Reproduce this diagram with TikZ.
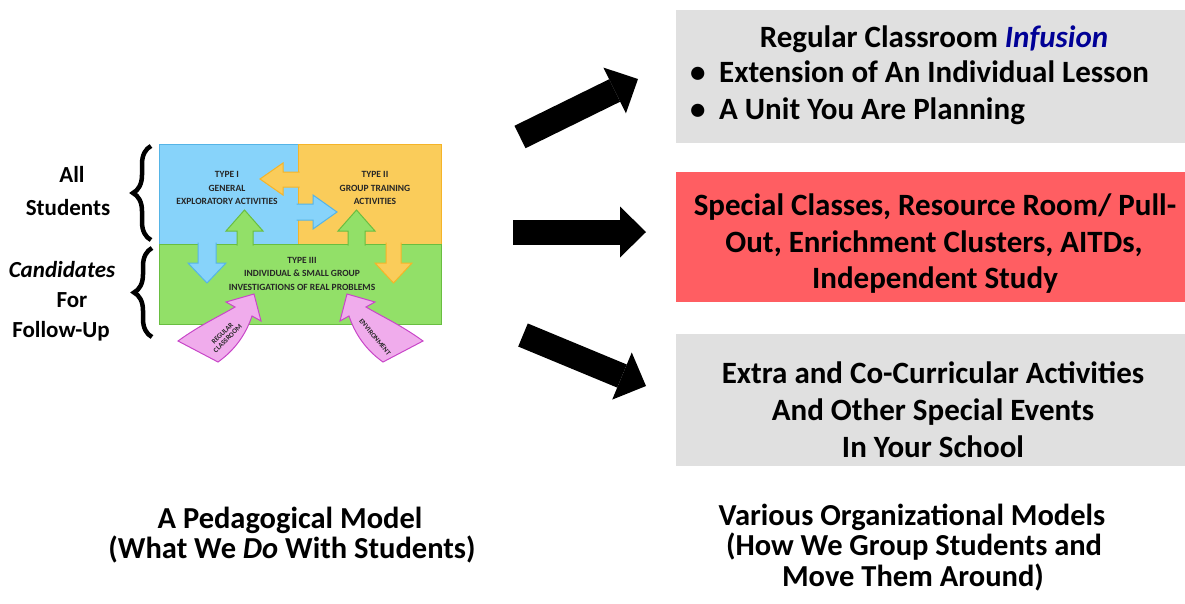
\documentclass[tikz,border=0pt]{standalone}
\usepackage{fontspec}
\setmainfont{Carlito}
\usepackage{xcolor}
\usepackage{tikz}
\usetikzlibrary{arrows.meta}
\usetikzlibrary{calc, positioning}
\usetikzlibrary{decorations.pathreplacing}
\definecolor{boxgray}{RGB}{224,224,224}
\definecolor{boxred}{RGB}{255,94,98}
\definecolor{infblue}{RGB}{0,0,150}
\definecolor{typeblue}{RGB}{135,211,250}
\definecolor{typebluedk}{RGB}{85,180,230}
\definecolor{typeorange}{RGB}{250,204,90}
\definecolor{typeorangedk}{RGB}{245,180,40}
\definecolor{typegreen}{RGB}{146,224,104}
\definecolor{typegreendk}{RGB}{105,190,65}
\definecolor{typepink}{RGB}{240,172,236}
\definecolor{typepinkdk}{RGB}{200,70,200}
\tikzstyle{orgbox} = [fill=boxgray,
	minimum width = 509pt,
	inner sep = 0pt]
\tikzstyle{boxtext} = [font=\fontsize{31}{37}\selectfont\bfseries, anchor=base, inner sep=0pt]
\tikzstyle{captext} = [font=\fontsize{30.5}{36}\selectfont\bfseries, anchor=base, inner sep=0pt]
\tikzstyle{sidetext} = [font=\fontsize{23}{28}\selectfont\bfseries, anchor=base, inner sep=0pt]
\tikzstyle{typetext} = [font=\fontsize{9.5}{13.5}\selectfont\bfseries, align=center, text=black!85]
\tikzstyle{bigarrow} = [line width=25pt, -{Triangle[length=26pt, width=51pt, line width=0pt]}]
\tikzstyle{bracket} = [decorate, decoration={brace, amplitude=18pt}, line width=4.5pt]
\newcommand{\typearrow}[3]{\filldraw[fill=#1, draw=#2, line width=1pt] #3;}
\newcommand{\pinkpath}{(178,341) .. controls (200,325) and (220,316) .. (235,307)
	-- (226,302) -- (254,294) -- (261,321) -- (252,316)
	.. controls (246,334) and (235,350) .. (218,362) -- cycle}

\begin{document}
\begin{tikzpicture}[x=1pt, y=-1pt]
	\useasboundingbox (0,0) rectangle (1185,603);
	
	% the three types
	\node (typeone) [draw=typebluedk, fill=typeblue, minimum width=139pt, minimum height=100pt, line width=1pt] at (228.5,194) {};
	\node (typetwo) [draw=typeorangedk, fill=typeorange, minimum width=143pt, minimum height=100pt, line width=1pt] at (369.5,194) {};
	\node (typethree) [draw=typegreendk, fill=typegreen, minimum width=282pt, minimum height=80pt, line width=1pt] at (300,284) {};
	
	\typearrow{typeorange}{typeorangedk}{(299.5,172) -- (283,172) -- (283,163) -- (260,179) -- (283,195) -- (283,187) -- (299.5,187)}
	\typearrow{typeblue}{typebluedk}{(296.5,204) -- (313,204) -- (313,195) -- (337,212) -- (313,229) -- (313,220) -- (296.5,220)}
	\typearrow{typegreen}{typegreendk}{(237,245.5) -- (237,231) -- (226,231) -- (244.5,210) -- (263,231) -- (253,231) -- (253,245.5)}
	\typearrow{typegreen}{typegreendk}{(348,245.5) -- (348,231) -- (338,231) -- (356.5,210) -- (375,231) -- (365,231) -- (365,245.5)}
	\typearrow{typeblue}{typebluedk}{(198,242.5) -- (198,263) -- (188,263) -- (207,283) -- (226,263) -- (216,263) -- (216,242.5)}
	\typearrow{typeorange}{typeorangedk}{(386,242.5) -- (386,263) -- (375,263) -- (393.5,283) -- (412,263) -- (401,263) -- (401,242.5)}
	
	\node [typetext] at (227,188) {TYPE I\\GENERAL\\EXPLORATORY ACTIVITIES};
	\node [typetext] at (375,188) {TYPE II\\GROUP TRAINING\\ACTIVITIES};
	\node [typetext] at (302,273.5) {TYPE III\\INDIVIDUAL \& SMALL GROUP\\INVESTIGATIONS OF REAL PROBLEMS};
	
	\filldraw[fill=typepink, draw=typepinkdk, line width=1pt] \pinkpath;
	\begin{scope}[xshift=601pt, xscale=-1]
		\filldraw[fill=typepink, draw=typepinkdk, line width=1pt] \pinkpath;
	\end{scope}
	\node [font=\fontsize{7}{7.5}\selectfont\bfseries, align=center, rotate=45, text=black!85] at (225,336) {REGULAR\\CLASSROOM};
	\node [font=\fontsize{7}{7.5}\selectfont\bfseries, rotate=-50, text=black!85] at (375,337) {ENVIRONMENT};
	
	% who takes part
	\draw [bracket] (151,240) -- (151,146);
	\draw [bracket] (152,337) -- (152,248);
	\node (all) [sidetext] at (72,182) {All};
	\node (students) [sidetext] at (68,215) {Students};
	\node (candidates) [sidetext] at (62,277) {\itshape Candidates};
	\node (for) [sidetext] at (72,307) {For};
	\node (followup) [sidetext] at (61,337) {Follow-Up};
	
	% organizational models
	\node (infusion) [orgbox, minimum height=133pt] at (930.5,76.5) {};
	\node (special) [orgbox, fill=boxred, minimum height=130pt] at (930.5,237) {};
	\node (extra) [orgbox, minimum height=132pt] at (930.5,400) {};
	
	\node (inftitle) [boxtext] at (934,47) {Regular Classroom \textcolor{infblue}{\itshape Infusion}};
	\node (infone) [boxtext, anchor=base west] at (690,82) {\makebox[29pt][l]{\textbullet}Extension of An Individual Lesson};
	\node (inftwo) [boxtext, anchor=base west] at (690,119) {\makebox[29pt][l]{\textbullet}A Unit You Are Planning};
	
	\node (spone) [boxtext] at (935,215) {Special Classes, Resource Room/ Pull-};
	\node (sptwo) [boxtext] at (934,252) {Out, Enrichment Clusters, AITDs,};
	\node (spthree) [boxtext] at (935,288) {Independent Study};
	
	\node (exone) [boxtext] at (933,383) {Extra and Co-Curricular Activities};
	\node (extwo) [boxtext] at (933,420) {And Other Special Events};
	\node (exthree) [boxtext] at (933,457) {In Your School};
	
	\coordinate (tailA) at (520,137);
	\coordinate (tipA) at (638,79);
	\coordinate (tailB) at (513,232);
	\coordinate (tipB) at (646,232);
	\coordinate (tailC) at (523,335);
	\coordinate (tipC) at (646,386);
	\draw [bigarrow] (tailA) -- (tipA);
	\draw [bigarrow] (tailB) -- (tipB);
	\draw [bigarrow] (tailC) -- (tipC);
	
	% captions
	\node (pedone) [captext] at (290,528) {A Pedagogical Model};
	\node (pedtwo) [captext] at (292,558) {(What We \textit{Do} With Students)};
	\node (orgone) [captext] at (912,525) {Various Organizational Models};
	\node (orgtwo) [captext] at (914,555) {(How We Group Students and};
	\node (orgthree) [captext] at (913,586) {Move Them Around)};
\end{tikzpicture}
\end{document}
